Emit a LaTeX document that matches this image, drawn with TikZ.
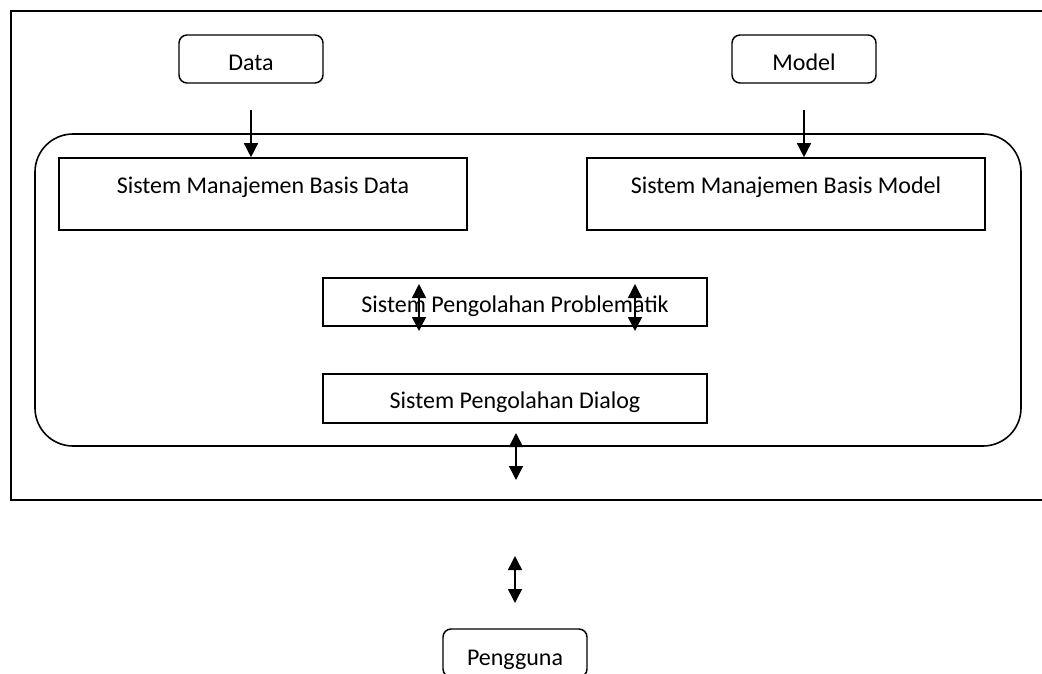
\documentclass[tikz,border=0pt]{standalone}
\usepackage{fontspec}
\setmainfont{Carlito}
\usetikzlibrary{arrows.meta}
\begin{document}
\begin{tikzpicture}[x=0.75pt,y=-0.75pt,
  every node/.style={font=\fontsize{18}{21}\selectfont},
  plainbox/.style={draw,line width=1.2pt,inner sep=0pt,minimum width=#1},
  softbox/.style={draw,line width=1.1pt,rounded corners=6pt,inner sep=0pt,
    minimum width=108pt,minimum height=36pt,text height=18pt,text depth=0pt},
  txt/.style={inner sep=0pt,anchor=base},
  arr/.style={line width=1.1pt,-{Triangle[width=10.5pt,length=10.5pt]}},
  biarr/.style={line width=1.1pt,{Triangle[width=10.5pt,length=10.5pt]}-{Triangle[width=10.5pt,length=10.5pt]}}]
\useasboundingbox (0,0) rectangle (1042,674);
\clip (0,0) rectangle (1042,674);

% outer frame, open on the right
\draw[line width=1.3pt] (1042,11) -- (11,11) -- (11,500) -- (1042,500);

% rounded system container
\node[draw,line width=1.2pt,rounded corners=28.5pt,inner sep=0pt,
      minimum width=739.5pt,minimum height=234pt] (dss) at (528,290) {};

% sources
\node[softbox] (data) at (251,59) {Data};
\node[softbox] (model) at (804,59) {Model};

% database and model base management
\node[plainbox=306pt,minimum height=54pt] (smbd) at (263,194) {};
\node[txt] (smbdt) at (263,193) {Sistem Manajemen Basis Data};
\node[plainbox=298.5pt,minimum height=54pt] (smbm) at (786,194) {};
\node[txt] (smbmt) at (786,193) {Sistem Manajemen Basis Model};

% problem processing and dialog
\node[plainbox=288pt,minimum height=36pt] (spp) at (515,302) {};
\node[txt] (sppt) at (515,312.5) {Sistem Pengolahan Problematik};
\node[plainbox=288pt,minimum height=36.75pt] (spd) at (515,398.5) {};
\node[txt] (spdt) at (515,408) {Sistem Pengolahan Dialog};

% user
\node[softbox] (user) at (515,653) {Pengguna};

% inflows
\draw[arr,shorten <=19.5pt] (data.south) -- (data.south |- smbd.north);
\draw[arr,shorten <=19.5pt] (model.south) -- (model.south |- smbm.north);

% two-way links
\coordinate (pa1) at (419,284); \coordinate (pa2) at (419,331);
\coordinate (pb1) at (635,284); \coordinate (pb2) at (635,331);
\coordinate (da1) at (516,433); \coordinate (da2) at (516,480);
\coordinate (ua1) at (515,556); \coordinate (ua2) at (515,603);
\draw[biarr] (pa1) -- (pa2);
\draw[biarr] (pb1) -- (pb2);
\draw[biarr] (da1) -- (da2);
\draw[biarr] (ua1) -- (ua2);
\end{tikzpicture}
\end{document}
